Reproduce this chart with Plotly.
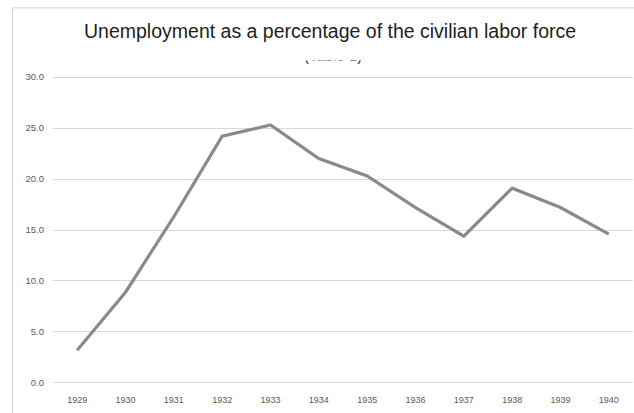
import plotly.graph_objects as go

# ---- data ----
years = ["1929", "1930", "1931", "1932", "1933", "1934", "1935", "1936", "1937", "1938", "1939", "1940"]
unemployment = [3.2, 8.9, 16.3, 24.2, 25.3, 22.0, 20.3, 17.2, 14.4, 19.1, 17.2, 14.6]
title_main = "Unemployment as a percentage of the civilian labor force"
title_sub = "(Table 1)"

# ---- layout geometry (pixels) ----
W, H = 634, 413
ML, MR, MT, MB = 53, 1, 73.7, 26.7
PW = W - ML - MR
PH = H - MT - MB


def px_x(x):
    return (x - ML) / PW


def px_y(y):
    return (H - MB - y) / PH


fig = go.Figure()
fig.add_trace(go.Scatter(
    x=years, y=unemployment, mode="lines",
    line=dict(color="#8a8a8a", width=3.2),
    hoverinfo="skip", showlegend=False,
))

grid = "#d9d9d9"
fig.update_layout(
    width=W, height=H,
    margin=dict(l=ML, r=MR, t=MT, b=MB),
    paper_bgcolor="white", plot_bgcolor="white",
    showlegend=False,
    xaxis=dict(
        type="category", range=[-0.5, 11.5], showgrid=False, zeroline=False,
        showline=False, ticks="", ticklabelstandoff=7,
        tickfont=dict(family="Liberation Sans, Arial", size=9, color="#595959"),
    ),
    yaxis=dict(
        range=[-0.3, 30.3], dtick=5, tick0=0, tickformat=".1f",
        showgrid=True, gridcolor=grid, gridwidth=1, zeroline=False,
        showline=False, ticks="", ticklabelstandoff=8,
        tickfont=dict(family="Liberation Sans, Arial", size=9.5, color="#595959"),
    ),
    shapes=[
        dict(type="line", xref="paper", yref="paper",
             x0=px_x(12.5), x1=px_x(12.5), y0=px_y(7), y1=px_y(H + 5),
             line=dict(color="#d4d4d4", width=1)),
        dict(type="line", xref="paper", yref="paper",
             x0=px_x(12), x1=px_x(W + 5), y0=px_y(7.5), y1=px_y(7.5),
             line=dict(color="#d4d4d4", width=1)),
    ],
    annotations=[
        dict(text=title_main, xref="paper", yref="paper",
             x=px_x(330), y=px_y(31), xanchor="center", yanchor="middle",
             showarrow=False,
             font=dict(family="Liberation Sans, Arial", size=19.5, color="#1e1e1e")),
        dict(text=title_sub, xref="paper", yref="paper",
             x=px_x(333), y=px_y(55), xanchor="center", yanchor="middle",
             showarrow=False,
             font=dict(family="Liberation Sans, Arial", size=15, color="#1e1e1e")),
        dict(text=" ", xref="paper", yref="paper",
             x=px_x(333), y=px_y(43), xanchor="center", yanchor="top",
             showarrow=False, width=100, height=16, borderpad=0,
             bgcolor="white", font=dict(size=4)),
    ],
)

fig.write_html("out.html")
